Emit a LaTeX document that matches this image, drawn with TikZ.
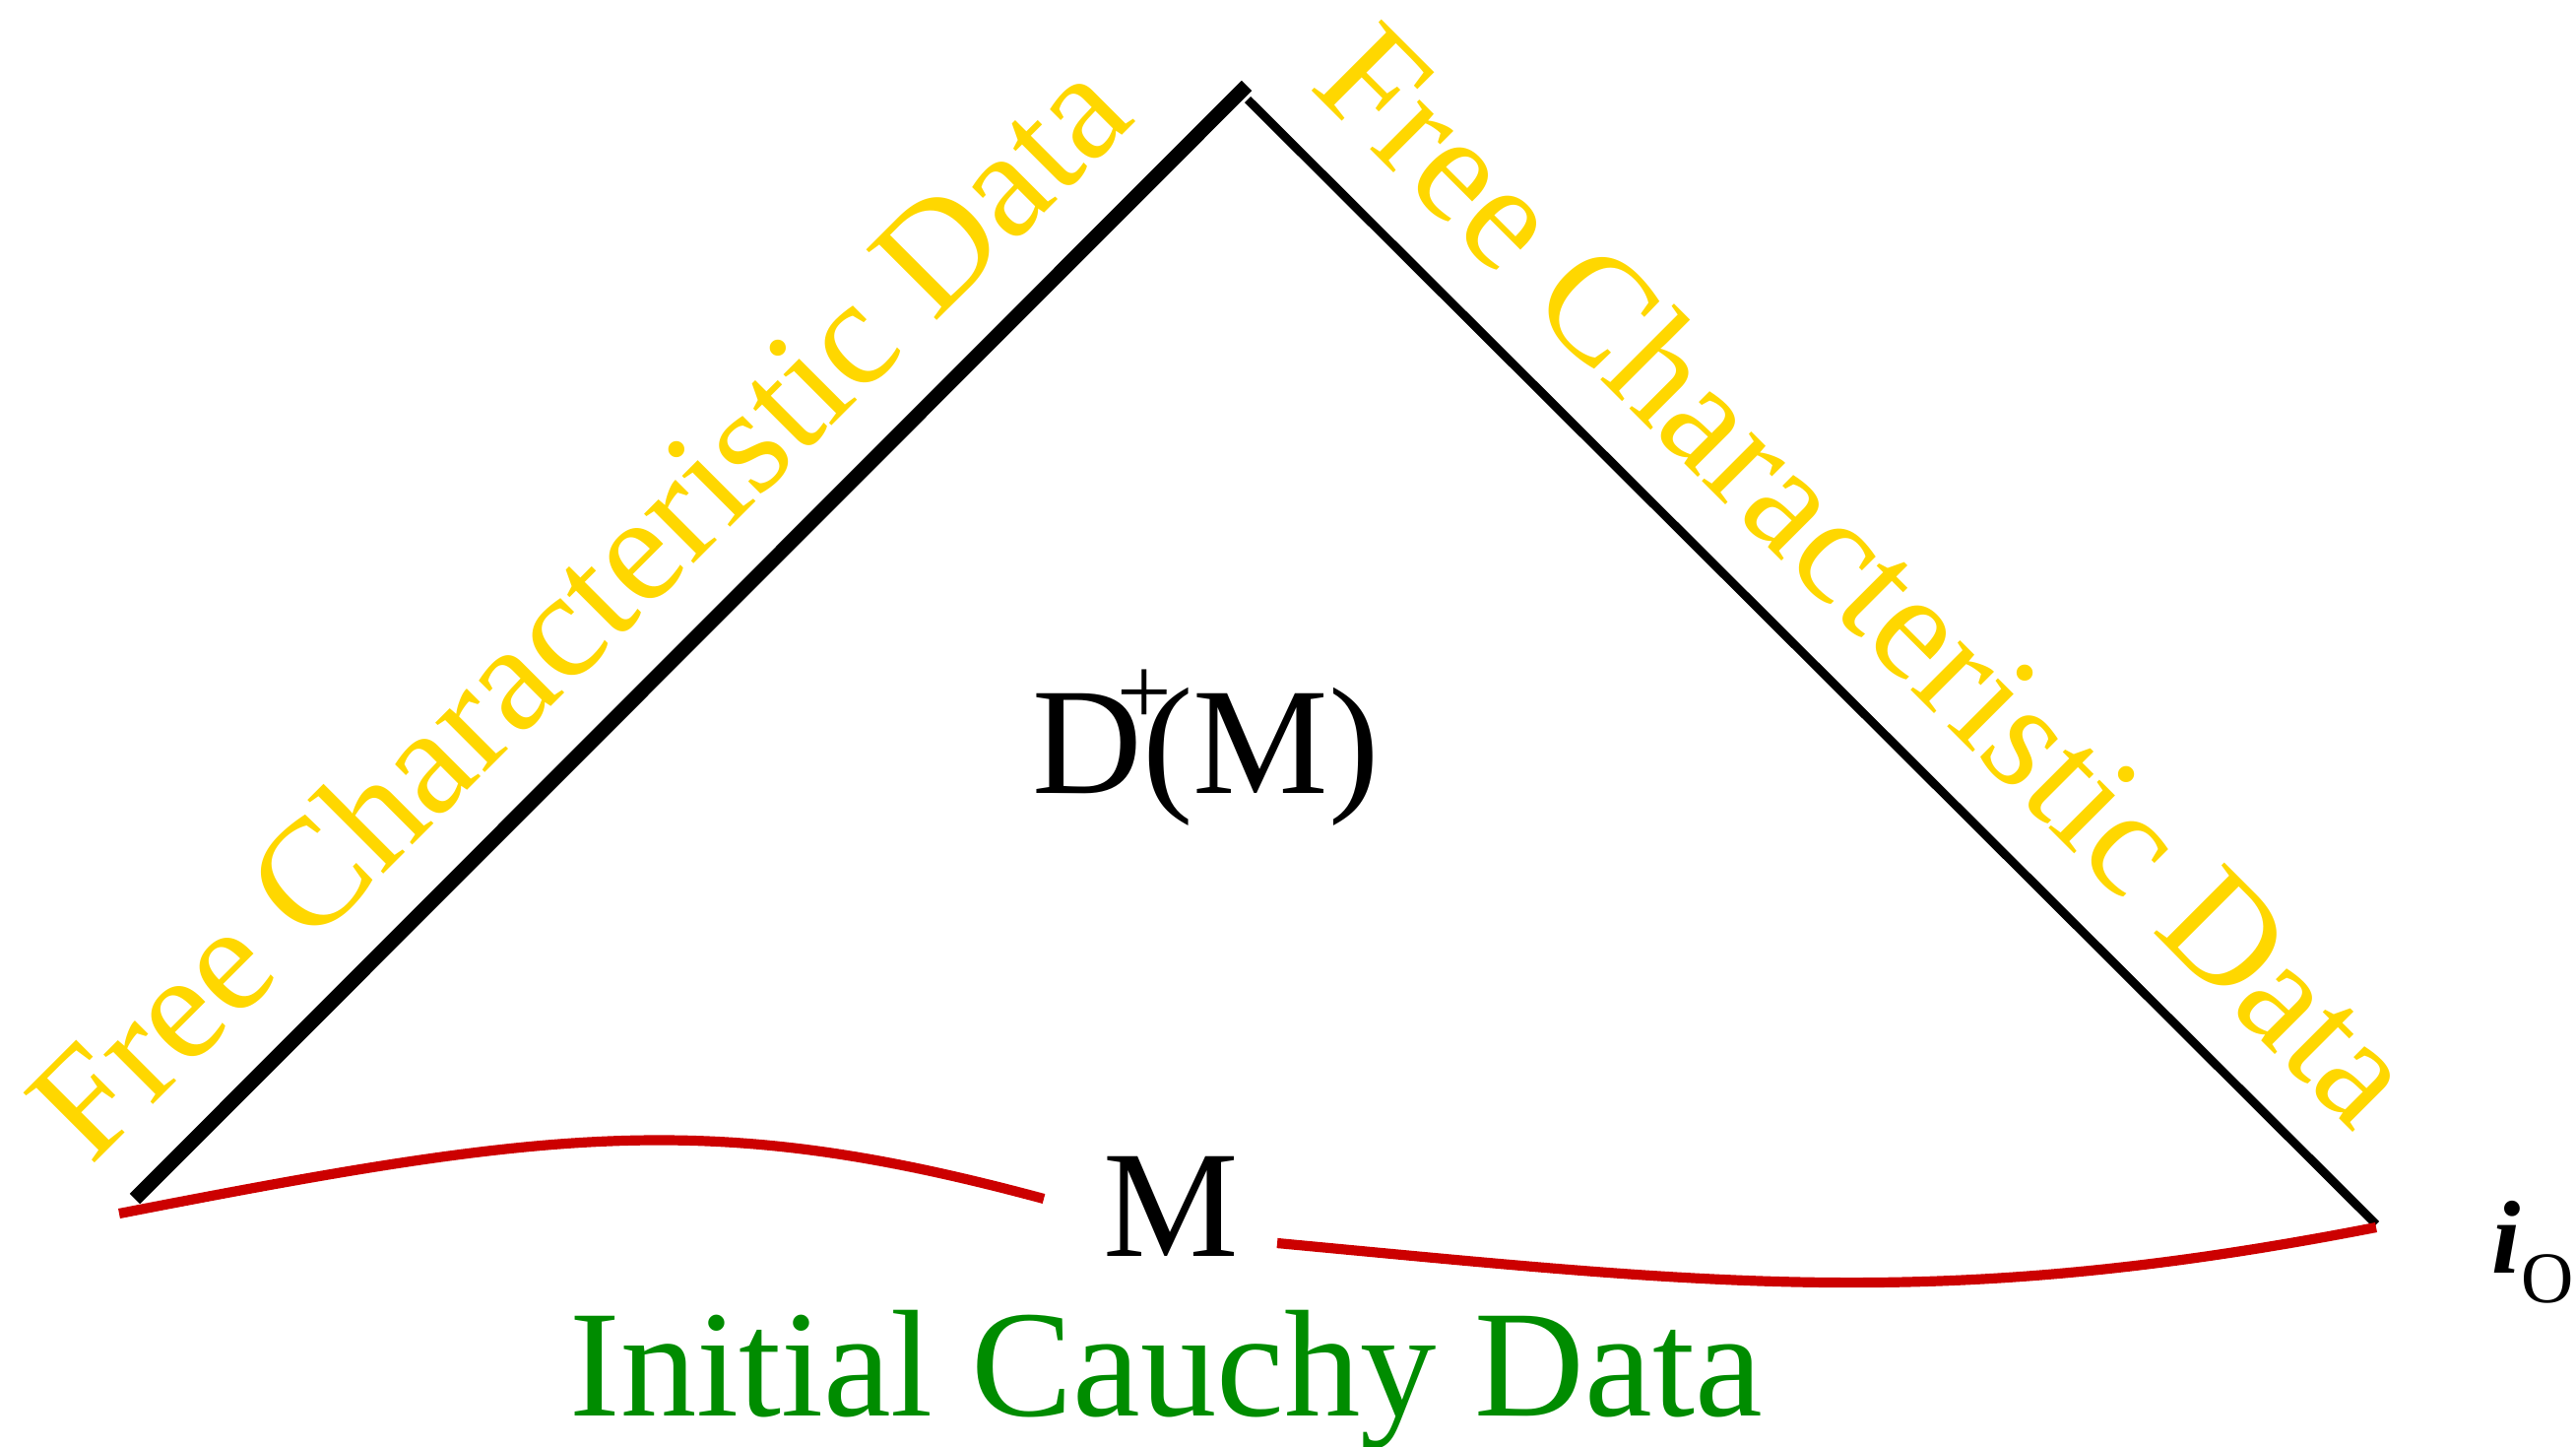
\documentclass[tikz,border=0pt]{standalone}
\usepackage{fontspec}
\setmainfont{Liberation Serif}
\usepackage{tikz}
\definecolor{nullgold}{RGB}{255,215,0}
\definecolor{surfred}{RGB}{204,0,0}
\definecolor{cauchygreen}{RGB}{0,140,0}

\begin{document}
\begin{tikzpicture}[
  big/.style={font=\fontsize{44}{50}\selectfont, inner sep=0pt},
  freelabel/.style={big, nullgold, anchor=base west},
  surface/.style={surfred, line width=2.9pt},
]
  \useasboundingbox (0,0) rectangle (26.16,14.68);

  % Corners
  \coordinate (botL) at (1.37,2.51);
  \coordinate (topL) at (12.66,13.81);
  \coordinate (topR) at (12.67,13.67);
  \coordinate (botR) at (24.13,2.25);

  % Null boundaries
  \draw[line width=4.2pt] (botL) -- (topL);
  \draw[line width=2.5pt] (topR) -- (botR);

  % Initial surface, broken round its label
  \coordinate (surfA) at (1.21,2.36);
  \coordinate (surfB) at (10.60,2.51);
  \coordinate (surfC) at (12.97,2.06);
  \coordinate (surfD) at (24.13,2.22);
  \draw[surface] (surfA) .. controls (5.63,3.22) and (7.22,3.42) .. (surfB);
  \draw[surface] (surfC) .. controls (17.45,1.64) and (19.71,1.36) .. (surfD);

  % Labels
  \node[freelabel, rotate=45] (freeL) at (0.92,2.83) {Free Characteristic Data};
  \node[freelabel, rotate=-45] (freeR) at (13.28,13.80) {Free Characteristic Data};
  \node[big, anchor=base west] (domain) at (10.48,6.63)
    {D\rlap{\hspace{-0.17em}\raisebox{0.45em}{\fontsize{28}{30}\selectfont +}}(M)};
  \node[big, anchor=base west] (surf) at (11.20,1.93) {M};
  \node[big, cauchygreen, anchor=base] (cauchy) at (11.84,0.31) {Initial Cauchy Data};
  \node[anchor=base west, inner sep=0pt, font=\fontsize{30}{34}\selectfont] (spi) at (25.30,1.76)
    {\textbf{\textit{i}}\raisebox{-0.29em}{\fontsize{21}{24}\selectfont O}};
\end{tikzpicture}
\end{document}
